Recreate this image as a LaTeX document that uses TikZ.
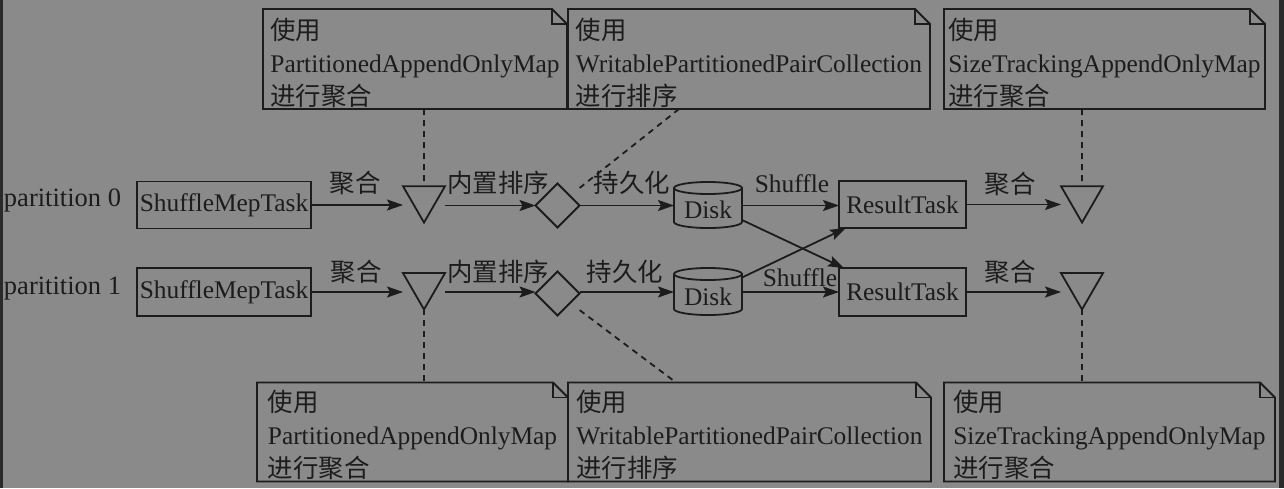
\documentclass[tikz,border=0pt]{standalone}
\usepackage{fontspec}
\setmainfont{Liberation Serif}
\newfontfamily\cjk{Noto Sans CJK SC}
\usetikzlibrary{shapes.geometric,arrows.meta,calc}
\definecolor{bgc}{HTML}{8A8A8A}
\definecolor{ink}{HTML}{1C1C1C}
\definecolor{edgec}{HTML}{2A2A2A}
\newcommand{\zh}[1]{{\cjk #1}}
\begin{document}
\begin{tikzpicture}[x=1pt,y=-1pt,
  every node/.style={font=\fontsize{25.4}{33}\selectfont, text=ink, inner sep=0pt, outer sep=0pt},
  ln/.style={draw=ink, line width=1.8pt},
  arr/.style={ln, -{Stealth[length=16pt,width=11pt,inset=3pt]}},
  dsh/.style={ln, dash pattern=on 6pt off 5pt},
  taskbox/.style={rectangle, draw=ink, line width=1.8pt},
  tri/.style={regular polygon, regular polygon sides=3, shape border rotate=180, draw=ink, line width=1.8pt, minimum size=48.5pt},
  dia/.style={diamond, draw=ink, line width=1.8pt, minimum width=44pt, minimum height=44pt},
  notebox/.style={rectangle},
  notetext/.style={align=left},
  diskbox/.style={rectangle, minimum width=68pt},
  rowlab/.style={anchor=west, font=\fontsize{26.5}{30}\selectfont},
  lab/.style={}
]
\useasboundingbox (0,0) rectangle (1284,488);
\fill[bgc] (0,0) rectangle (1284,488);
\fill[edgec] (0,0) rectangle (3,488);
\fill[edgec] (1279,0) rectangle (1284,488);

% row labels
\node[rowlab] (p0) at (4,201) {paritition 0};
\node[rowlab] (p1) at (4,289) {paritition 1};

% task boxes
\node[taskbox, minimum width=174pt, minimum height=47pt] (sm0) at (224,205) {ShuffleMepTask};
\node[taskbox, minimum width=174pt, minimum height=48pt] (sm1) at (224,292) {ShuffleMepTask};
\node[taskbox, minimum width=127pt, minimum height=47pt] (rt0) at (902.5,204.5) {ResultTask};
\node[taskbox, minimum width=127pt, minimum height=48pt] (rt1) at (902.5,292) {ResultTask};

% triangles
\node[tri] (tri0) at (424,198.3) {};
\node[tri] (tri1) at (424,285.2) {};
\node[tri] (tri2) at (1082,198.3) {};
\node[tri] (tri3) at (1082,285.2) {};

% diamonds
\node[dia] (d0) at (557.5,205.5) {};
\node[dia] (d1) at (557.5,293.5) {};

% disks
\node[diskbox, minimum height=46pt] (k0) at (708,205) {};
\node[diskbox, minimum height=47pt] (k1) at (708,291.5) {};
\foreach \k in {k0,k1}{
  \draw[ln] ($(\k.north)+(0,6)$) ellipse [x radius=34pt, y radius=6pt];
  \draw[ln] ($(\k.north west)+(0,6)$) -- ($(\k.south west)+(0,-6)$)
     arc[start angle=180, end angle=360, x radius=34pt, y radius=6pt]
     -- ($(\k.north east)+(0,6)$);
}
\node (k0t) at ($(k0)+(0,5)$) {Disk};
\node (k1t) at ($(k1)+(0,5)$) {Disk};

% notes (boxes)
\node[notebox, minimum width=304pt, minimum height=100pt] (tl) at (415,59) {};
\node[notebox, minimum width=362pt, minimum height=100pt] (tm) at (749,59) {};
\node[notebox, minimum width=321pt, minimum height=100pt] (tr) at (1104.5,59) {};
\node[notebox, minimum width=311pt, minimum height=99pt] (bl) at (412.5,432) {};
\node[notebox, minimum width=363pt, minimum height=99pt] (bm) at (749.5,432) {};
\node[notebox, minimum width=331pt, minimum height=99pt] (br) at (1109.5,432) {};
\foreach \n in {tl,tm,tr,bl,bm,br}{
  \draw[ln, line join=miter] (\n.south west) -- (\n.north west) -- ([xshift=-15pt]\n.north east)
     -- ([yshift=-15pt]\n.north east) -- (\n.south east) -- cycle;
  \draw[ln] ([xshift=-15pt]\n.north east) -- ([xshift=-15pt,yshift=-15pt]\n.north east)
     -- ([yshift=-15pt]\n.north east);
}
% notes (texts)
\node[notetext] (tlt) at ($(tl.center)+(0,4)$) {\zh{使用}\\PartitionedAppendOnlyMap\\\zh{进行聚合}};
\node[notetext] (tmt) at ($(tm.center)+(0,4)$) {\zh{使用}\\WritablePartitionedPairCollection\\\zh{进行排序}};
\node[notetext] (trt) at ($(tr.center)+(0,4)$) {\zh{使用}\\SizeTrackingAppendOnlyMap\\\zh{进行聚合}};
\node[notetext] (blt) at ($(bl.center)+(0,3)$) {\zh{使用}\\PartitionedAppendOnlyMap\\\zh{进行聚合}};
\node[notetext] (bmt) at ($(bm.center)+(0,3)$) {\zh{使用}\\WritablePartitionedPairCollection\\\zh{进行排序}};
\node[notetext] (brt) at ($(br.center)+(0,3)$) {\zh{使用}\\SizeTrackingAppendOnlyMap\\\zh{进行聚合}};

% row 0 connectors
\draw[arr] (sm0.east) -- (tri0.corner 3 |- sm0.east);
\draw[arr] (tri0.corner 2 |- d0.west) -- (d0.west);
\draw[arr] (d0.east) -- (k0.west |- d0.east);
\draw[arr] (k0.east |- d0.east) -- (rt0.west |- d0.east);
\draw[arr] (rt0.east) -- (tri2.corner 3 |- rt0.east);
% row 1 connectors
\draw[arr] (sm1.east) -- (tri1.corner 3 |- sm1.east);
\draw[arr] (tri1.corner 2 |- sm1.east) -- (d1.west |- sm1.east);
\draw[arr] (d1.east |- sm1.east) -- (k1.west |- sm1.east);
\draw[arr] (k1.east |- sm1.east) -- (rt1.west |- sm1.east);
\draw[arr] (rt1.east) -- (tri3.corner 3 |- rt1.east);
% crossing
\draw[arr] ([yshift=-15pt]k0.east) -- ([xshift=5pt]rt1.north west);
\draw[arr] ([yshift=14pt]k1.east) -- ([xshift=7pt]rt0.south west);

% labels
\node[lab] (a0) at (355,183) {\zh{聚合}};
\node[lab] (b0) at (498,183) {\zh{内置排序}};
\node[lab] (c0) at (632,183) {\zh{持久化}};
\node[lab] (s0) at (792,184) {Shuffle};
\node[lab] (e0) at (1010,184) {\zh{聚合}};
\node[lab] (a1) at (356,272) {\zh{聚合}};
\node[lab] (b1) at (498,272) {\zh{内置排序}};
\node[lab] (c1) at (625,272) {\zh{持久化}};
\node[lab] (s1) at (800,277.5) {Shuffle};
\node[lab] (e1) at (1010,272) {\zh{聚合}};

% dashed
\coordinate (tmc) at ($(tm.south west)+(111,0)$);
\coordinate (bmc) at ($(bm.north west)+(108,0)$);
\draw[dsh] (tl.south -| tri0.corner 1) -- ($(tri0.corner 2)!.5!(tri0.corner 3)$);
\draw[dsh, shorten >=12pt] (tmc) -- (d0);
\draw[dsh] (tr.south -| tri2.corner 1) -- ($(tri2.corner 2)!.5!(tri2.corner 3)$);
\draw[dsh] (tri1.corner 1) -- (tri1.corner 1 |- bl.north);
\draw[dsh, shorten <=12pt] (d1) -- (bmc);
\draw[dsh] (tri3.corner 1) -- (tri3.corner 1 |- br.north);
\end{tikzpicture}
\end{document}
